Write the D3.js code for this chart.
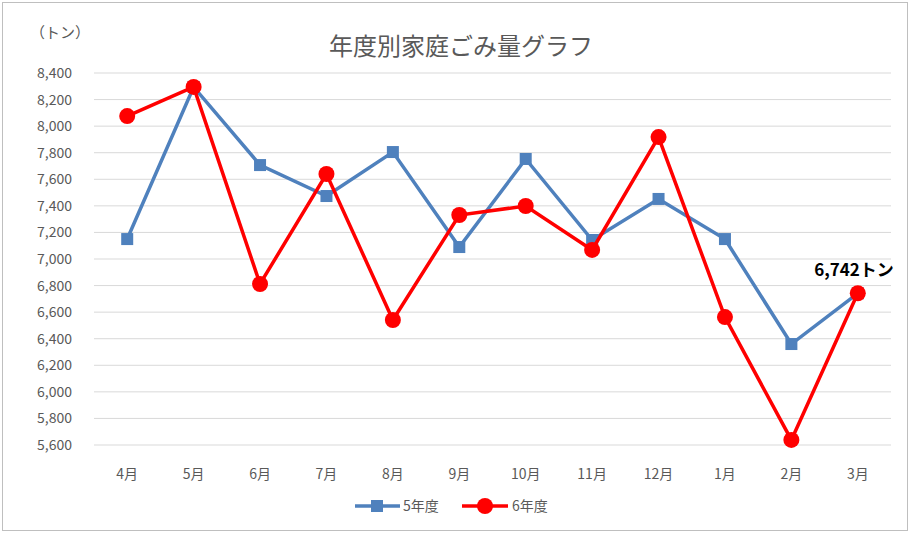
<!DOCTYPE html>
<html><head><meta charset="utf-8">
<script src="https://cdn.jsdelivr.net/npm/d3@7"></script>
<style>body{margin:0;background:#fff}text{font-family:"Noto Sans CJK JP","Noto Sans",sans-serif}</style>
</head><body>
<svg id="chart" width="911" height="535"></svg>
<script>
const months = ['4月','5月','6月','7月','8月','9月','10月','11月','12月','1月','2月','3月'];
const r5 = [7150,8295,7707,7474,7805,7090,7753,7143,7452,7150,6360,6742];
const r6 = [8076,8295,6812,7640,6541,7331,7399,7068,7918,6563,5638,6742];
const yTicks = d3.range(5600, 8401, 200);

const svg = d3.select('#chart');
svg.append('rect').attr('x', 2.5).attr('y', 2.5).attr('width', 905).attr('height', 528)
    .attr('fill', '#fff').attr('stroke', '#bfbfbf');

const x = d3.scaleBand().domain(months).range([94, 891]);
const y = d3.scaleLinear().domain([5600, 8400]).range([445, 73]);
const cx = d => x(d) + x.bandwidth() / 2;

svg.append('g').selectAll('line').data(yTicks).join('line')
    .attr('x1', 94).attr('x2', 891)
    .attr('y1', d => y(d)).attr('y2', d => y(d))
    .attr('stroke', '#d9d9d9');

svg.append('g').selectAll('text').data(yTicks).join('text')
    .attr('x', 72).attr('y', d => y(d) + 5).attr('text-anchor', 'end')
    .attr('font-size', 14).attr('fill', '#595959')
    .text(d => d3.format(',')(d));

svg.append('g').selectAll('text').data(months).join('text')
    .attr('x', cx).attr('y', 479).attr('text-anchor', 'middle')
    .attr('font-size', 14).attr('fill', '#595959').text(d => d);

svg.append('text').attr('x', 30).attr('y', 38).attr('font-size', 15).attr('fill', '#595959').text('（トン）');
svg.append('text').attr('x', 461).attr('y', 55).attr('text-anchor', 'middle')
    .attr('font-size', 24).attr('fill', '#595959').text('年度別家庭ごみ量グラフ');

const line = d3.line().x((d, i) => cx(months[i])).y(d => y(d));

svg.append('path').datum(r5).attr('d', line).attr('fill', 'none')
    .attr('stroke', '#4f81bd').attr('stroke-width', 3.5);
svg.append('g').selectAll('rect').data(r5).join('rect')
    .attr('x', (d, i) => cx(months[i]) - 6).attr('y', d => y(d) - 6)
    .attr('width', 12).attr('height', 12).attr('fill', '#4f81bd');

svg.append('path').datum(r6).attr('d', line).attr('fill', 'none')
    .attr('stroke', '#ff0000').attr('stroke-width', 3.5);
svg.append('g').selectAll('circle').data(r6).join('circle')
    .attr('cx', (d, i) => cx(months[i])).attr('cy', d => y(d))
    .attr('r', 8).attr('fill', '#ff0000');

svg.append('text').attr('x', 854).attr('y', y(r6[11]) - 17).attr('text-anchor', 'middle')
    .attr('font-size', 17).attr('font-weight', 'bold').attr('fill', '#000')
    .text(d3.format(',')(r6[11]) + 'トン');

// legend
const lg = svg.append('g');
lg.append('line').attr('x1', 355).attr('x2', 400).attr('y1', 506).attr('y2', 506)
    .attr('stroke', '#4f81bd').attr('stroke-width', 3.5);
lg.append('rect').attr('x', 371).attr('y', 500).attr('width', 12).attr('height', 12).attr('fill', '#4f81bd');
lg.append('text').attr('x', 403).attr('y', 511).attr('font-size', 14).attr('fill', '#595959').text('5年度');
lg.append('line').attr('x1', 462).attr('x2', 508).attr('y1', 506).attr('y2', 506)
    .attr('stroke', '#ff0000').attr('stroke-width', 3.5);
lg.append('circle').attr('cx', 485).attr('cy', 506).attr('r', 8).attr('fill', '#ff0000');
lg.append('text').attr('x', 512).attr('y', 511).attr('font-size', 14).attr('fill', '#595959').text('6年度');
</script>
</body></html>
